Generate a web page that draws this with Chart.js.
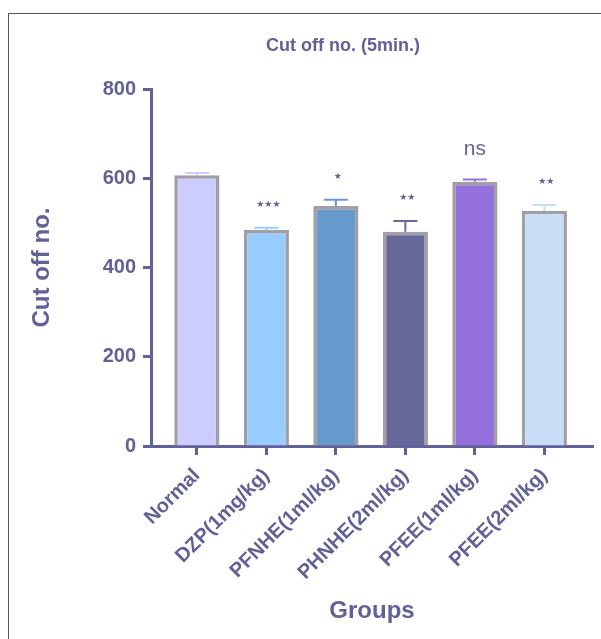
<!DOCTYPE html>
<html>
<head>
<meta charset="utf-8">
<script src="https://cdn.jsdelivr.net/npm/chart.js@4"></script>
<style>
  html, body { margin: 0; padding: 0; background: #fff; overflow: hidden; }
  .frame { position: absolute; left: 8px; top: 13px; width: 700px; height: 700px;
           border-left: 1px solid #555; border-top: 1px solid #555; }
  canvas { position: absolute; left: 0; top: 0; }
</style>
</head>
<body>
<div class="frame"></div>
<canvas id="myChart" width="601" height="639"></canvas>
<script>
// groups on the x axis
const groups = ['Normal', 'DZP(1mg/kg)', 'PFNHE(1ml/kg)', 'PHNHE(2ml/kg)', 'PFEE(1ml/kg)', 'PFEE(2ml/kg)'];
// mean cut off no. in 5 min and SEM
const means = [607, 484, 538, 480, 592, 527];
const sems = [5, 5, 14, 24, 5, 13];
// significance vs normal
const marks = ['', '★★★', '★', '★★', 'ns', '★★'];
const yTicks = [0, 200, 400, 600, 800];

const fills = ['#ccccff', '#99ccff', '#6699cc', '#666699', '#9370db', '#c8ddf6'];
const ink = '#616198';
const fontFamily = '"Liberation Sans", Arial, sans-serif';

// error bars + star labels above each bar
const errorBars = {
    id: 'errorBars',
    afterDatasetsDraw(chart) {
        const ctx = chart.ctx;
        const yScale = chart.scales.y;
        const meta = chart.getDatasetMeta(0);
        ctx.save();
        meta.data.forEach((bar, i) => {
            const top = yScale.getPixelForValue(means[i] + sems[i]);
            ctx.strokeStyle = fills[i];
            ctx.lineWidth = 2;
            ctx.beginPath();
            ctx.moveTo(bar.x, bar.y);
            ctx.lineTo(bar.x, top);
            ctx.moveTo(bar.x - 12, top);
            ctx.lineTo(bar.x + 12, top);
            ctx.stroke();

            ctx.fillStyle = ink;
            ctx.textAlign = 'center';
            ctx.textBaseline = 'middle';
            if (marks[i] === 'ns') {
                ctx.font = '21px ' + fontFamily;
                ctx.fillText(marks[i], bar.x, top - 30);
            } else if (marks[i]) {
                ctx.font = '9px "DejaVu Sans"';
                ctx.fillText(marks[i], bar.x + 2, top - 23);
            }
        });
        ctx.restore();
    }
};

// chart heading, sits left of the plot centre
const heading = {
    id: 'heading',
    afterDraw(chart) {
        const ctx = chart.ctx;
        ctx.save();
        ctx.fillStyle = ink;
        ctx.font = 'bold 18px ' + fontFamily;
        ctx.textAlign = 'center';
        ctx.textBaseline = 'middle';
        ctx.fillText('Cut off no. (5min.)', 343, 46);
        ctx.restore();
    }
};

const ctx = document.getElementById('myChart').getContext('2d');
new Chart(ctx, {
    type: 'bar',
    data: {
        datasets: [{
            data: means.map((v, i) => ({ x: i, y: v })),
            backgroundColor: fills,
            borderColor: '#a0a0a4',
            borderWidth: 3.5,
            borderSkipped: 'start',
            barPercentage: 0.65,
            categoryPercentage: 1
        }]
    },
    options: {
        responsive: false,
        animation: false,
        layout: { padding: { left: 0, right: 8, top: 89, bottom: 0 } },
        plugins: {
            legend: { display: false },
            tooltip: { enabled: false },
            title: { display: false }
        },
        scales: {
            x: {
                type: 'linear',
                offset: false,
                min: -0.66,
                max: 5.7,
                afterBuildTicks: (scale) => { scale.ticks = groups.map((g, i) => ({ value: i })); },
                afterFit: (scale) => { scale.height = 193; },
                grid: { offset: false, drawOnChartArea: false, drawTicks: true, tickLength: 9, tickWidth: 3, tickColor: ink },
                border: { display: true, width: 3, color: ink },
                ticks: {
                    autoSkip: false,
                    minRotation: 45,
                    maxRotation: 45,
                    padding: 9,
                    color: ink,
                    font: { family: fontFamily, size: 20, weight: 'bold' },
                    callback: (v) => groups[v]
                },
                title: {
                    display: true,
                    text: 'Groups',
                    color: ink,
                    font: { family: fontFamily, size: 24, weight: 'bold' },
                    padding: { bottom: 13 }
                }
            },
            y: {
                min: 0,
                max: 800,
                afterBuildTicks: (scale) => { scale.ticks = yTicks.map(v => ({ value: v })); },
                afterFit: (scale) => { scale.width = 151; },
                grid: { drawOnChartArea: false, drawTicks: true, tickLength: 8, tickWidth: 3, tickColor: ink },
                border: { display: true, width: 3, color: ink },
                ticks: {
                    padding: 7,
                    color: ink,
                    font: { family: fontFamily, size: 20, weight: 'bold' }
                },
                title: {
                    display: true,
                    text: 'Cut off no.',
                    color: ink,
                    font: { family: fontFamily, size: 24, weight: 'bold' },
                    padding: { top: 28 }
                }
            }
        }
    },
    plugins: [errorBars, heading]
});
</script>
</body>
</html>
